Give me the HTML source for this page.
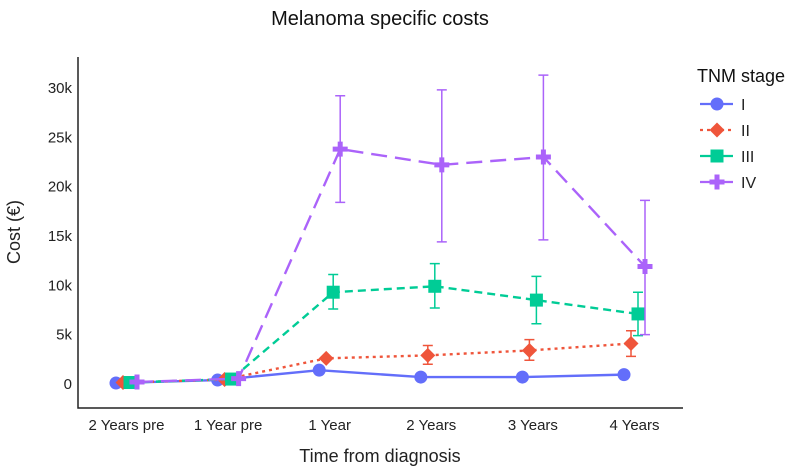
<!DOCTYPE html>
<html><head><meta charset="utf-8"><style>
body{margin:0;background:#fff;font-family:"Liberation Sans",sans-serif}
svg text{font-family:"Liberation Sans",sans-serif}
</style></head><body>
<svg id="c" width="800" height="470" xmlns="http://www.w3.org/2000/svg"></svg>
<script>
const categories=["2 Years pre","1 Year pre","1 Year","2 Years","3 Years","4 Years"];
const stages=["I","II","III","IV"];
const valsI=[0.1,0.4,1.4,0.7,0.7,0.95];
const valsII=[0.15,0.45,2.6,2.9,3.4,4.1];
const valsIII=[0.15,0.5,9.3,9.9,8.5,7.1];
const valsIV=[0.2,0.55,23.8,22.2,23.0,11.9];
const loII=[null,null,null,2.0,2.4,2.8];
const hiII=[null,null,null,3.9,4.5,5.4];
const loIII=[null,null,7.6,7.7,6.1,4.9];
const hiIII=[null,null,11.1,12.2,10.9,9.3];
const loIV=[null,null,18.4,14.4,14.6,5.0];
const hiIV=[null,null,29.2,29.8,31.3,18.6];
const yTicks=[0,5,10,15,20,25,30];
const yTickLabels=["0","5k","10k","15k","20k","25k","30k"];

const NS="http://www.w3.org/2000/svg";
const svg=document.getElementById('c');
function mk(t,a,p){const e=document.createElementNS(NS,t);for(const k in a)e.setAttribute(k,a[k]);(p||svg).appendChild(e);return e;}
const x=i=>126.5+i*101.6;
const y=v=>384-v*9.87;
const colors=["#636efa","#ef553b","#00cc96","#ab63fa"];
const dashes=["","3,4","8,5","16,8"];
const offs=[-10.5,-3.5,3.5,10.5];
const series=[valsI,valsII,valsIII,valsIV];
const los=[null,loII,loIII,loIV], his=[null,hiII,hiIII,hiIV];

let t=mk('text',{x:380,y:25,'text-anchor':'middle','font-size':20,fill:'#111'});t.textContent="Melanoma specific costs";


let ax=mk('path',{d:'M78 57V408H683',stroke:'#222','stroke-width':1.5,fill:'none'});


yTicks.forEach((v,i)=>{const e=mk('text',{x:72,y:y(v)+5,'text-anchor':'end','font-size':15,fill:'#222'});e.textContent=yTickLabels[i];
});
categories.forEach((c,i)=>{const e=mk('text',{x:x(i),y:430,'text-anchor':'middle','font-size':15,fill:'#222'});e.textContent=c;
});
t=mk('text',{x:380,y:462,'text-anchor':'middle','font-size':18,fill:'#222'});t.textContent="Time from diagnosis";

t=mk('text',{x:0,y:0,'text-anchor':'middle','font-size':18,fill:'#222',transform:'translate(20,232) rotate(-90)'});t.textContent="Cost (€)";


function marker(s,cx,cy,g){
 const c=colors[s];
 if(s==0)return mk('circle',{cx,cy,r:6.5,fill:c},g);
 if(s==1)return mk('path',{d:`M${cx} ${cy-7.5}L${cx+7.5} ${cy}L${cx} ${cy+7.5}L${cx-7.5} ${cy}Z`,fill:c},g);
 if(s==2)return mk('rect',{x:cx-6.5,y:cy-6.5,width:13,height:13,fill:c},g);
 return mk('path',{d:`M${cx-2.5} ${cy-7.5}h5v5h5v5h-5v5h-5v-5h-5v-5h5Z`,fill:c},g);
}
series.forEach((vals,s)=>{
 const g=mk('g',{});
 const d=vals.map((v,i)=>(i?'L':'M')+(x(i)+offs[s])+' '+y(v)).join('');
 mk('path',{d,stroke:colors[s],'stroke-width':2.4,fill:'none','stroke-dasharray':dashes[s]},g);
 if(los[s])vals.forEach((v,i)=>{if(los[s][i]==null)return;const cx=x(i)+offs[s];
  const e=mk('path',{d:`M${cx} ${y(los[s][i])}V${y(his[s][i])}M${cx-5} ${y(los[s][i])}h10M${cx-5} ${y(his[s][i])}h10`,stroke:colors[s],'stroke-width':1.5,fill:'none'},g);
  });
 vals.forEach((v,i)=>{const m=marker(s,x(i)+offs[s],y(v),g);});
});
const lg=mk('g',{});
t=mk('text',{x:697,y:82,'font-size':18,fill:'#111'},lg);t.textContent="TNM stage";

stages.forEach((st,s)=>{const yy=104+s*26;const g=mk('g',{},lg);
 
 mk('path',{d:`M700 ${yy}h33`,stroke:colors[s],'stroke-width':2.2,'stroke-dasharray':s==1?'3,4':''},g);
 marker(s,717,yy,g);
 const e=mk('text',{x:741,y:yy+6,'font-size':16,fill:'#222'},g);e.textContent=st;});
</script>
</body></html>
